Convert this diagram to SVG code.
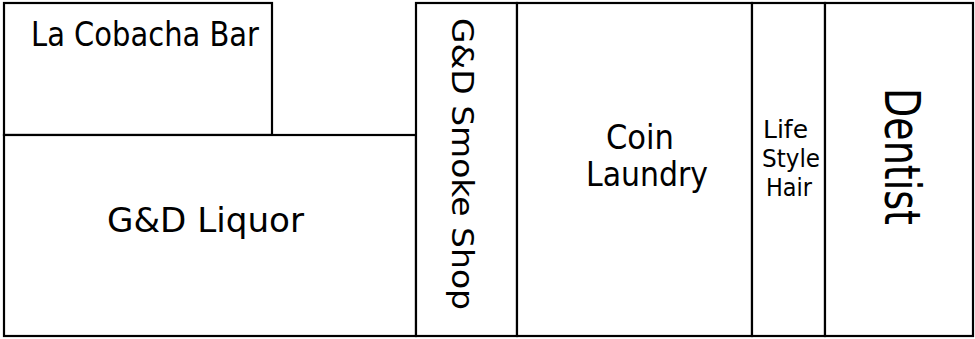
<svg xmlns="http://www.w3.org/2000/svg" width="975" height="339" viewBox="0 0 975 339">
<style>
.shop{fill:#fff;stroke:#000;stroke-width:2.2}
.lbl{font-family:"DejaVu Sans","Verdana",sans-serif;fill:#000}
</style>
<rect width="975" height="339" fill="#fff"/>
<g id="la-cobacha-bar">
<rect class="shop" x="4" y="3" width="268" height="132"/>
<text class="lbl" x="31" y="46" font-size="33" textLength="228" lengthAdjust="spacingAndGlyphs">La Cobacha Bar</text>
</g>
<g id="gd-liquor">
<rect class="shop" x="4" y="135" width="412" height="201"/>
<text class="lbl" x="107" y="232" font-size="33" textLength="197" lengthAdjust="spacingAndGlyphs">G&amp;D Liquor</text>
</g>
<g id="gd-smoke-shop">
<rect class="shop" x="416" y="3" width="101" height="333"/>
<text class="lbl" transform="translate(452,18) rotate(90)" x="0" y="0" font-size="30" textLength="292" lengthAdjust="spacingAndGlyphs">G&amp;D Smoke Shop</text>
</g>
<g id="coin-laundry">
<rect class="shop" x="517" y="3" width="235" height="333"/>
<text class="lbl" x="606" y="149" font-size="33" textLength="68" lengthAdjust="spacingAndGlyphs">Coin</text>
<text class="lbl" x="586" y="186" font-size="33" textLength="122" lengthAdjust="spacingAndGlyphs">Laundry</text>
</g>
<g id="life-style-hair">
<rect class="shop" x="752" y="3" width="73" height="333"/>
<text class="lbl" x="763" y="138" font-size="25" textLength="45" lengthAdjust="spacingAndGlyphs">Life</text>
<text class="lbl" x="762" y="167" font-size="25" textLength="58" lengthAdjust="spacingAndGlyphs">Style</text>
<text class="lbl" x="766" y="196" font-size="25" textLength="46" lengthAdjust="spacingAndGlyphs">Hair</text>
</g>
<g id="dentist">
<rect class="shop" x="825" y="3" width="148" height="333"/>
<text class="lbl" transform="translate(885,88) rotate(90)" x="0" y="0" font-size="49" textLength="137" lengthAdjust="spacingAndGlyphs">Dentist</text>
</g>
<g id="connectors"></g>
</svg>
